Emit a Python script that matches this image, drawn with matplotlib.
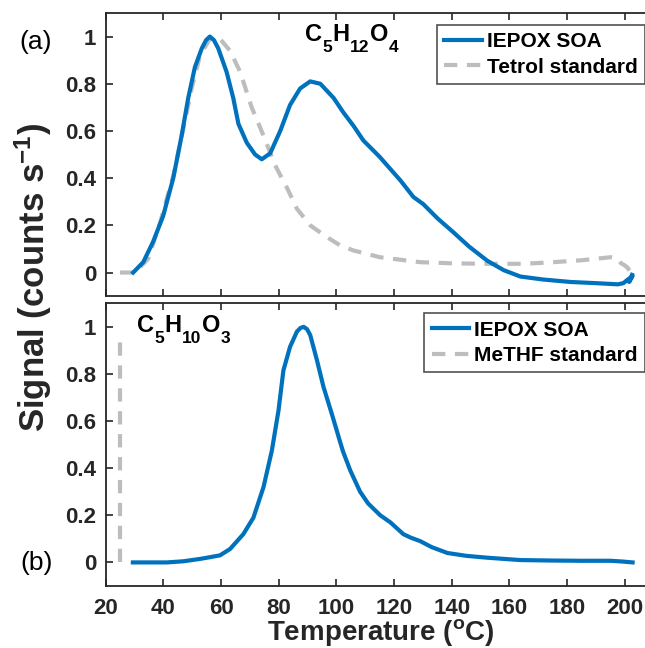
import matplotlib
matplotlib.use("Agg")
import matplotlib.pyplot as plt

plt.rcParams["font.family"] = ["Liberation Sans", "DejaVu Sans"]
plt.rcParams["font.weight"] = "bold"
plt.rcParams["mathtext.fontset"] = "custom"
plt.rcParams["mathtext.rm"] = "Liberation Sans:bold"
plt.rcParams["mathtext.bf"] = "Liberation Sans:bold"
plt.rcParams["mathtext.it"] = "Liberation Sans:bold"

BLUE, GRAY, DARK = "#0072BD", "#BDBDBD", "#262626"

# (a) C5H12O4 -- IEPOX SOA thermogram
a_soa_t = [29.5, 33.0, 36.4, 39.9, 43.4, 46.3, 48.6, 50.9, 53.3, 54.8, 56.1, 57.5,
           59.0, 61.9, 64.2, 66.0, 68.9, 71.8, 74.1, 77.0, 80.5, 83.9, 87.4, 90.9,
           94.4, 99.0, 102.3, 106, 109.3, 115, 122.2, 126.7, 130.1, 135, 140.6, 146,
           152.3, 158, 163.8, 172, 181.2, 190, 197.6, 199.5, 201, 202.7, 201.5, 202.5]
a_soa_y = [0.0, 0.044, 0.13, 0.24, 0.40, 0.58, 0.74, 0.87, 0.95, 0.985, 1.0, 0.985,
           0.95, 0.85, 0.74, 0.63, 0.55, 0.50, 0.48, 0.505, 0.60, 0.71, 0.78, 0.81,
           0.80, 0.74, 0.68, 0.62, 0.56, 0.49, 0.39, 0.32, 0.29, 0.23, 0.17, 0.11,
           0.05, 0.01, -0.017, -0.03, -0.04, -0.045, -0.05, -0.045, -0.03, -0.015,
           -0.04, -0.01]

# (a) tetrol standard
a_std_t = [24.9, 30.1, 34.7, 38.8, 43.4, 46.9, 49.8, 52.7, 56.1, 59.6, 63.1, 66.6,
           70.6, 74.7, 78.7, 82.8, 86.3, 90.9, 96.7, 101.3, 105.8, 115, 129, 140,
           152.3, 165, 175.3, 185, 195.1, 197.5, 198.6, 200, 201, 201.5, 202]
a_std_y = [0.0, 0.0, 0.058, 0.21, 0.41, 0.61, 0.78, 0.92, 0.99, 0.99, 0.94, 0.85,
           0.70, 0.58, 0.455, 0.36, 0.27, 0.20, 0.15, 0.115, 0.094, 0.065, 0.044,
           0.039, 0.037, 0.037, 0.044, 0.052, 0.065, 0.06, 0.04, 0.03, 0.02, 0.01, 0.0]

# (b) C5H10O3 -- IEPOX SOA thermogram
b_soa_t = [29.4, 35, 41.2, 47, 52.7, 56, 59.6, 63.1, 67.7, 71.2, 74.7, 77.6, 79.9,
           81.6, 83.9, 86.3, 87.5, 88.6, 89.8, 90.9, 93.2, 95.5, 98.4, 101.3, 102.3,
           104.8, 108.2, 111, 115.2, 118.7, 123.2, 125.6, 129.1, 133, 138.5, 145,
           152.3, 163.8, 175, 185, 195.1, 199, 202.7]
b_soa_y = [0.0, 0.0, 0.0, 0.005, 0.015, 0.022, 0.03, 0.057, 0.12, 0.19, 0.32, 0.475,
           0.645, 0.815, 0.915, 0.98, 0.995, 1.0, 0.99, 0.965, 0.86, 0.745, 0.63,
           0.51, 0.47, 0.39, 0.30, 0.25, 0.20, 0.17, 0.12, 0.106, 0.09, 0.065, 0.04,
           0.028, 0.02, 0.01, 0.008, 0.007, 0.007, 0.004, 0.0]

# (b) MeTHF standard (desorbs immediately)
b_std_t = [24.9, 24.9]
b_std_y = [0.0, 0.97]

xticks = [20, 40, 60, 80, 100, 120, 140, 160, 180, 200]
yticks = [0, 0.2, 0.4, 0.6, 0.8, 1]
ytick_labels = ["0", "0.2", "0.4", "0.6", "0.8", "1"]


def chem(ax, x, y, parts, size=17, sub=12.5, drop=8):
    # formula drawn piece by piece so subscripts sit low like the original
    prev = ax.text(x, y, parts[0], fontsize=size, fontweight="bold",
                   ha="left", va="baseline")
    for i, p in enumerate(parts[1:]):
        is_sub = i % 2 == 0
        prev = ax.annotate(p, xy=(1, y), xycoords=(prev, ax.transData),
                           xytext=(0.3, -drop if is_sub else 0),
                           textcoords="offset points",
                           fontsize=sub if is_sub else size, fontweight="bold",
                           ha="left", va="baseline")


fig = plt.figure(figsize=(6.45, 6.48), dpi=100)
ax_a = fig.add_axes([0.164, 0.543, 0.836, 0.437])
ax_b = fig.add_axes([0.164, 0.0957, 0.836, 0.4363])

dash = (0, (3.2, 2.3))
ax_a.plot(a_soa_t, a_soa_y, color=BLUE, lw=3, label="IEPOX SOA", zorder=3)
ax_a.plot(a_std_t, a_std_y, color=GRAY, lw=3, ls=dash,
          label="Tetrol standard", zorder=2)
ax_b.plot(b_soa_t, b_soa_y, color=BLUE, lw=3, label="IEPOX SOA", zorder=3)
ax_b.plot(b_std_t, b_std_y, color=GRAY, lw=3, ls=dash,
          label="MeTHF standard", zorder=2)

for ax in (ax_a, ax_b):
    ax.set_xlim(20, 207)
    ax.set_ylim(-0.1, 1.1)
    ax.set_xticks(xticks)
    ax.set_yticks(yticks)
    ax.set_yticklabels(ytick_labels)
    ax.tick_params(direction="in", length=5, width=1.2, colors=DARK,
                   labelsize=16, top=True, right=False)
    ax.tick_params(axis="y", pad=7)
    ax.tick_params(axis="x", pad=9)
    for s in ("left", "top", "bottom"):
        ax.spines[s].set_color(DARK)
        ax.spines[s].set_linewidth(1.3)
    ax.spines["right"].set_visible(False)
    for lbl in ax.get_xticklabels() + ax.get_yticklabels():
        lbl.set_fontweight("bold")

ax_a.tick_params(labelbottom=False)

leg_kw = dict(loc="upper right", fontsize=15, frameon=True, fancybox=False,
              handlelength=1.8, handletextpad=0.25, borderpad=0.35,
              labelspacing=0.3, borderaxespad=0)
leg = ax_a.legend(bbox_to_anchor=(1.0, 1 - 12 / 283), **leg_kw)
leg.get_frame().set_edgecolor(DARK)
leg.get_frame().set_linewidth(1.2)
leg = ax_b.legend(bbox_to_anchor=(1.0, 1 - 10 / 283), **leg_kw)
leg.get_frame().set_edgecolor(DARK)
leg.get_frame().set_linewidth(1.2)

chem(ax_a, 89.1, 0.98, ["C", "5", "H", "12", "O", "4"])
chem(ax_b, 30.8, 0.977, ["C", "5", "H", "10", "O", "3"])

fig.text(0.055, 1 - 42 / 648, "(a)", fontsize=19, fontweight="normal",
         ha="center", va="center")
fig.text(0.057, 1 - 563 / 648, "(b)", fontsize=19, fontweight="normal",
         ha="center", va="center")

fig.text(0.052, 1 - 277 / 648, r"Signal (counts s$^{\mathbf{-1}}$)", fontsize=25,
         fontweight="bold", rotation=90, ha="center", va="center", color=DARK)
fig.text(0.59, 1 - 633 / 648, r"Temperature ($^{\mathbf{o}}$C)", fontsize=20,
         fontweight="bold", ha="center", va="center", color=DARK)

fig.savefig("out.png", dpi=100)
